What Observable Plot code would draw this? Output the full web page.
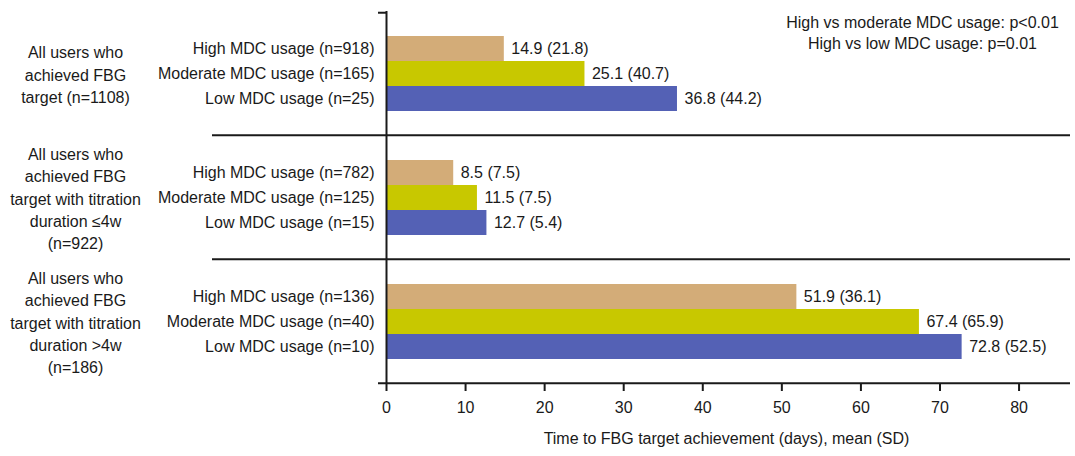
<!DOCTYPE html>
<html><head><meta charset="utf-8">
<script src="https://cdn.jsdelivr.net/npm/d3@7"></script>
<script src="https://cdn.jsdelivr.net/npm/@observablehq/plot@0.6"></script>
<style>body{margin:0;background:#fff}</style>
</head><body><div id="chart"></div>
<script>
const groups = ["all", "le4w", "gt4w"];
const groupLabels = [
  "All users who\nachieved FBG\ntarget (n=1108)",
  "All users who\nachieved FBG\ntarget with titration\nduration ≤4w\n(n=922)",
  "All users who\nachieved FBG\ntarget with titration\nduration >4w\n(n=186)"
];
const levels = ["High", "Moderate", "Low"];
const nValues = [[918, 165, 25], [782, 125, 15], [136, 40, 10]];
const means = [[14.9, 25.1, 36.8], [8.5, 11.5, 12.7], [51.9, 67.4, 72.8]];
const sds = [[21.8, 40.7, 44.2], [7.5, 7.5, 5.4], [36.1, 65.9, 52.5]];
const xTicks = [0, 10, 20, 30, 40, 50, 60, 70, 80];
const xMax = 86;
const colors = ["#D3AC78", "#C8C800", "#5461B5"];
const annotation = "High vs moderate MDC usage: p<0.01\nHigh vs low MDC usage: p=0.01";
const xLabel = "Time to FBG target achievement (days), mean (SD)";

const W = 1075, H = 456, mT = 11, mB = 73, mL = 386, mR = 9;
const padOuter = 0.91;
const facetH = (H - mT - mB) / groups.length;
const step = facetH / (levels.length + 2 * padOuter);
const edge = step * (0.5 + padOuter);

const rows = [];
groups.forEach((g, gi) => levels.forEach((l, li) => rows.push({
  group: g, level: l, n: nValues[gi][li], mean: means[gi][li], sd: sds[gi][li]
})));
const groupRows = groups.map((g, i) => ({group: g, label: groupLabels[i]}));
const ink = "#1a1a1a";

const chart = Plot.plot({
  width: W, height: H,
  marginTop: mT, marginBottom: mB, marginLeft: mL, marginRight: mR,
  style: {fontFamily: "Liberation Sans, Arial, sans-serif", fontSize: "16px", color: ink, background: "#fff"},
  x: {domain: [0, xMax]},
  y: {domain: levels, paddingInner: 0, paddingOuter: padOuter, axis: null},
  fy: {domain: groups, padding: 0, axis: null},
  color: {domain: levels, range: colors},
  marks: [
    Plot.barX(rows, {fy: "group", y: "level", x: "mean", fill: "level"}),
    Plot.text(rows, {fy: "group", y: "level", x: "mean", text: d => `${d.mean.toFixed(1)} (${d.sd.toFixed(1)})`, textAnchor: "start", dx: 7, fill: ink}),
    Plot.text(rows, {fy: "group", y: "level", frameAnchor: "left", text: d => `${d.level} MDC usage (n=${d.n})`, textAnchor: "end", dx: -12, fill: ink}),
    Plot.text(groupRows, {fy: "group", frameAnchor: "left", text: "label", textAnchor: "middle", dx: 75 - mL, lineHeight: 1.4, fill: ink}),
    Plot.text([annotation], {fy: () => groups[0], frameAnchor: "top-right", text: d => d, textAnchor: "middle", lineAnchor: "top", dx: -144, dy: 2, lineHeight: 1.28, fill: ink}),
    Plot.ruleX([0], {stroke: ink, strokeWidth: 2}),
    Plot.ruleY(groups.slice(0, 2), {fy: d => d, y: () => levels[2], dy: edge, x1: 0, x2: xMax, insetLeft: -174, insetRight: -4, stroke: ink, strokeWidth: 2}),
    Plot.ruleY([groups[0]], {fy: d => d, y: () => levels[0], dy: -edge, x1: 0, x2: 0, insetLeft: -8, stroke: ink, strokeWidth: 2}),
    Plot.ruleY([groups[2]], {fy: d => d, y: () => levels[2], dy: edge, x1: 0, x2: xMax, insetLeft: -8, insetRight: -4, stroke: ink, strokeWidth: 2}),
    Plot.axisX({ticks: xTicks, tickSize: 8, tickPadding: 10, strokeWidth: 2, stroke: ink, fill: ink,
      label: xLabel, labelAnchor: "center", labelOffset: 60, labelArrow: "none"})
  ]
});
document.getElementById("chart").appendChild(chart);
</script>
</body></html>
